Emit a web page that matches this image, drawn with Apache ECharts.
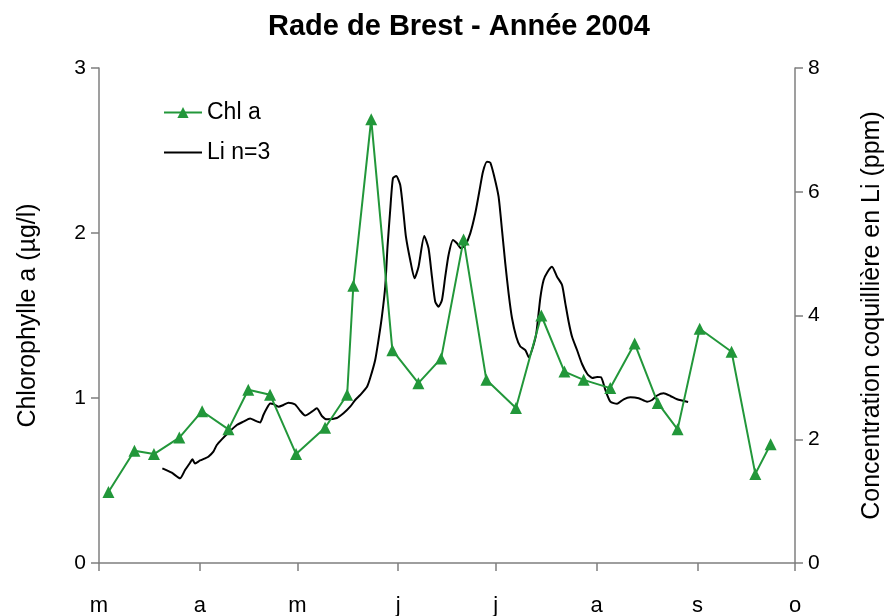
<!DOCTYPE html>
<html>
<head>
<meta charset="utf-8">
<script src="https://cdn.jsdelivr.net/npm/echarts@6/dist/echarts.min.js"></script>
<style>
  html, body { margin: 0; padding: 0; background: #fff; }
  #chart { width: 889px; height: 616px; }
</style>
</head>
<body>
<div id="chart"></div>
<script>
// Days counted from 1 March 2004; month starts used for the x ticks
const monthStarts = [0, 31, 61, 92, 122, 153, 184, 214];
const monthLabels = ['m', 'a', 'm', 'j', 'j', 'a', 's', 'o'];

// Chlorophylle a (µg/l), weekly sampling
const chlDays = [2.9, 10.9, 16.9, 24.7, 31.7, 39.8, 45.9, 52.6, 60.6, 69.5, 76.3, 78.2, 83.7, 90.2, 98.2,
  105.2, 112.1, 119.1, 128.2, 136.0, 143.1, 149.0, 157.2, 164.7, 171.8, 177.9, 184.7, 194.5, 201.8, 206.5];
const chlValues = [0.43, 0.68, 0.66, 0.76, 0.92, 0.81, 1.05, 1.02, 0.66, 0.82, 1.02, 1.68, 2.69, 1.29, 1.09,
  1.24, 1.96, 1.11, 0.94, 1.50, 1.16, 1.11, 1.06, 1.33, 0.97, 0.81, 1.42, 1.28, 0.54, 0.72];

// Concentration coquillière en Li (ppm), mean of 3 shells
const liDays = [19.48, 22.37, 24.92, 26.46, 28.0, 28.71, 29.54, 31.08, 32.62, 33.63, 35.17, 36.22, 37.75, 39.78,
  42.37, 44.4, 46.46, 48.0, 49.54, 50.55, 51.6, 52.62, 53.63, 55.17, 56.71, 58.25, 60.31, 61.85, 63.38, 65.45,
  66.98, 68.52, 70.06, 73.14, 75.17, 77.23, 78.77, 80.31, 82.37, 83.38, 84.92, 85.94, 86.98, 88.0, 88.71, 89.54,
  90.37, 91.38, 92.62, 93.63, 94.37, 95.69, 97.02, 98.25, 100.0, 101.32, 102.37, 103.38, 104.4, 105.45, 106.46,
  107.48, 108.83, 110.06, 111.29, 112.62, 114.15, 115.69, 117.02, 118.06, 119.29, 120.31, 121.54, 122.86, 123.91,
  124.92, 125.94, 126.98, 128.31, 129.54, 131.08, 132.15, 133.23, 134.46, 135.69, 136.71, 137.94, 139.29, 140.83,
  142.37, 143.38, 144.4, 145.45, 146.98, 148.52, 150.15, 151.69, 153.14, 154.37, 155.69, 157.23, 159.29, 161.32,
  163.38, 165.94, 168.52, 170.06, 171.6, 173.63, 175.69, 177.75, 181.14];
const liValues = [1.53, 1.459, 1.369, 1.503, 1.621, 1.676, 1.608, 1.657, 1.692, 1.718, 1.799, 1.907, 1.999, 2.106,
  2.23, 2.284, 2.335, 2.3, 2.271, 2.392, 2.5, 2.578, 2.57, 2.526, 2.554, 2.591, 2.562, 2.461, 2.384, 2.445,
  2.5, 2.376, 2.322, 2.343, 2.419, 2.526, 2.634, 2.715, 2.844, 2.99, 3.281, 3.604, 3.981, 4.465, 5.112, 5.705,
  6.217, 6.255, 6.109, 5.652, 5.274, 4.897, 4.601, 4.789, 5.285, 5.086, 4.627, 4.223, 4.142, 4.251, 4.627,
  4.978, 5.22, 5.167, 5.086, 5.139, 5.328, 5.652, 6.028, 6.324, 6.486, 6.47, 6.243, 5.92, 5.382,
  4.844, 4.359, 3.96, 3.653, 3.499, 3.442, 3.324, 3.459, 3.712, 4.283, 4.574, 4.708, 4.789, 4.627,
  4.493, 4.197, 3.9, 3.657, 3.442, 3.216, 3.055, 2.99, 3.006, 3.001, 2.796, 2.607, 2.573, 2.646,
  2.678, 2.662, 2.607, 2.634, 2.707, 2.743, 2.699, 2.646, 2.602];

const FONT = 'Liberation Sans, Arial, sans-serif';
const AXIS_COLOR = '#7f7f7f';
const GREEN = '#22973a';

const chart = echarts.init(document.getElementById('chart'), null, { renderer: 'canvas' });

const zip = (xs, ys) => xs.map((x, i) => [x, ys[i]]);

const yAxisCommon = {
  type: 'value',
  nameLocation: 'middle',
  nameRotate: 90,
  nameTextStyle: { fontFamily: FONT, fontSize: 25, color: '#000' },
  axisLine: { show: true, lineStyle: { color: AXIS_COLOR, width: 1.5 } },
  axisTick: { show: true, inside: false, length: 8, lineStyle: { color: AXIS_COLOR, width: 1.5 } },
  axisLabel: { fontFamily: FONT, fontSize: 21, color: '#000', margin: 13 },
  splitLine: { show: false }
};

chart.setOption({
  animation: false,
  backgroundColor: '#fff',
  title: {
    text: 'Rade de Brest - Année 2004',
    left: 454,
    textAlign: 'center',
    top: 7,
    textStyle: { fontFamily: FONT, fontSize: 29, fontWeight: 'bold', color: '#000' }
  },
  grid: { left: 99, right: 94, top: 68, bottom: 53, containLabel: false, outerBoundsMode: 'none' },
  legend: {
    orient: 'vertical',
    left: 158,
    top: 96,
    itemWidth: 38,
    itemHeight: 14,
    itemGap: 17,
    textStyle: { fontFamily: FONT, fontSize: 23, color: '#000' },
    data: [
      'Chl a',
      { name: 'Li n=3', icon: 'path://M0,0 L38,0 L38,2 L0,2 Z' }
    ]
  },
  xAxis: {
    type: 'value',
    min: 0,
    max: 214,
    axisLine: { show: true, onZero: false, lineStyle: { color: AXIS_COLOR, width: 1.5 } },
    axisTick: { show: true, length: 8, customValues: monthStarts, lineStyle: { color: AXIS_COLOR, width: 1.5 } },
    axisLabel: {
      fontFamily: FONT, fontSize: 22, color: '#000', margin: 32,
      customValues: monthStarts,
      formatter: v => monthLabels[monthStarts.indexOf(v)] || ''
    },
    splitLine: { show: false }
  },
  yAxis: [
    Object.assign({}, yAxisCommon, {
      name: 'Chlorophylle a (µg/l)',
      position: 'left',
      min: 0, max: 3, interval: 1,
      nameGap: 58
    }),
    Object.assign({}, yAxisCommon, {
      name: 'Concentration coquillière en Li (ppm)',
      position: 'right',
      min: 0, max: 8, interval: 2,
      nameGap: 65
    })
  ],
  series: [
    {
      name: 'Chl a',
      type: 'line',
      yAxisIndex: 0,
      data: zip(chlDays, chlValues),
      symbol: 'triangle',
      symbolSize: 12,
      lineStyle: { color: GREEN, width: 2 },
      itemStyle: { color: GREEN },
      z: 3
    },
    {
      name: 'Li n=3',
      type: 'line',
      yAxisIndex: 1,
      data: zip(liDays, liValues),
      symbol: 'none',
      smooth: 0.2,
      lineStyle: { color: '#000', width: 2 },
      itemStyle: { color: '#000' },
      z: 2
    }
  ]
});
</script>
</body>
</html>
